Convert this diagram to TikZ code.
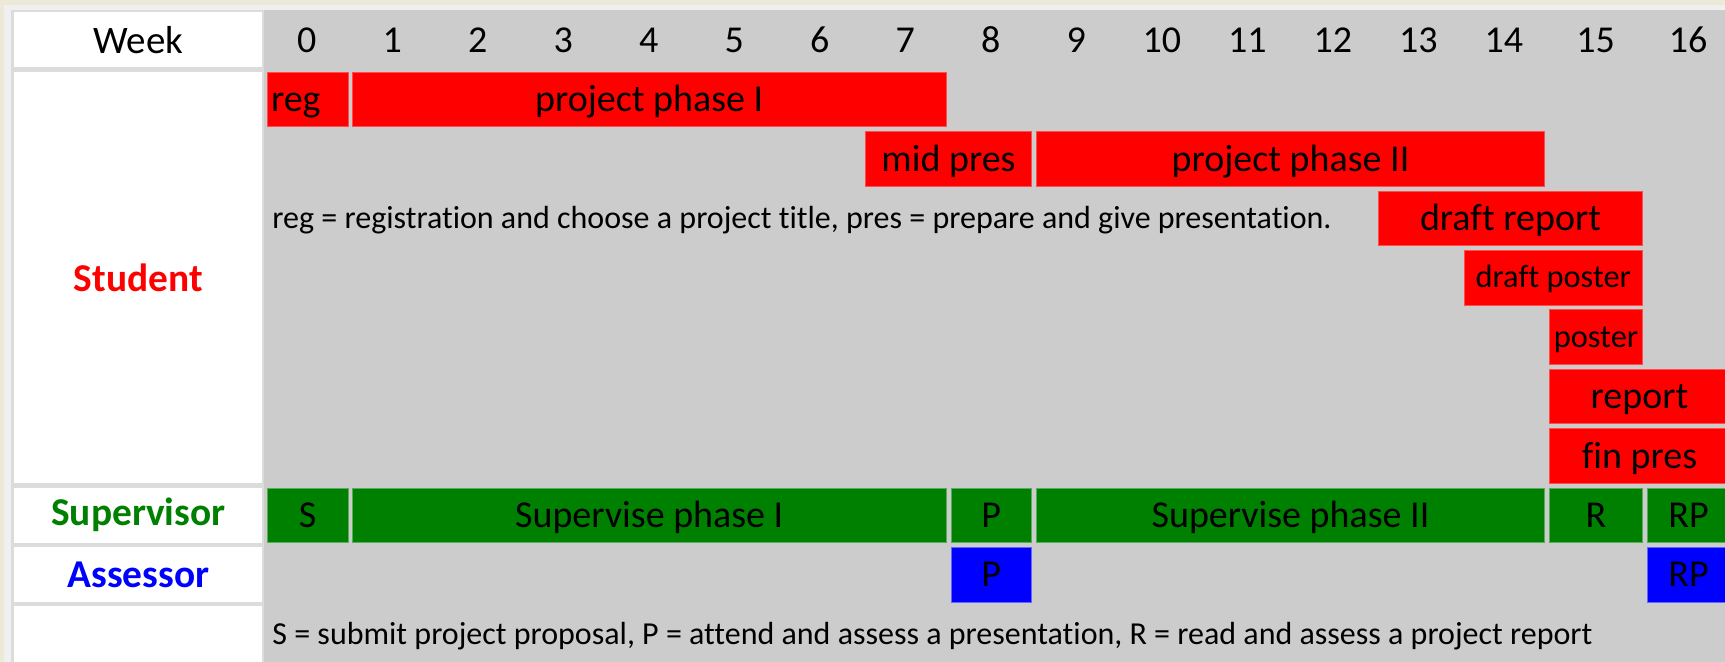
\documentclass[tikz,border=0pt]{standalone}
\usepackage{fontspec}
\setmainfont{Carlito}[Ligatures=NoCommon]
\definecolor{beige}{HTML}{ECE9D8}
\definecolor{frameg}{HTML}{F0F0F0}
\definecolor{tgray}{HTML}{CCCCCC}
\definecolor{lgap}{HTML}{DCDCDC}
\definecolor{dgreen}{HTML}{008000}
\newcommand\gbox[6]{%
  \node[#2, anchor=north west, minimum width={(#4-#3)*0.5pt}, minimum height=27.25pt] (#1) at (#3,{12+59.4*#5+0.5}) {#6};}
\newcommand\wcell[4]{%
  \node[whitecell, anchor=north west, minimum height={(#4-#3)*0.5pt}] (#1) at (14,#3) {#2};}
\tikzset{
  cell/.style={inner sep=0pt, text height=14pt, text depth=2pt, font=\fontsize{19}{21}\selectfont, text=black},
  redbox/.style={cell, fill=red, draw=red!70!white, line width=0.5pt},
  grnbox/.style={cell, fill=dgreen, draw=dgreen!65!white, line width=0.5pt},
  blubox/.style={cell, fill=blue, draw=blue!60!white, line width=0.5pt},
  smallred/.style={redbox, font=\fontsize{16.2}{18}\selectfont, text height=12pt, text depth=2pt},
  whitecell/.style={fill=white, inner sep=0pt, minimum width=124pt, font=\fontsize{19.7}{22}\selectfont\bfseries},
  hdr/.style={inner sep=0pt, font=\fontsize{19}{21}\selectfont, text height=12pt, text depth=0pt},
  note/.style={inner sep=0pt, font=\fontsize{16}{18}\selectfont, anchor=west}
}
\begin{document}
\begin{tikzpicture}[x=0.5pt, y=-0.5pt]
\useasboundingbox (0,0) rectangle (1725,662);
\clip (0,0) rectangle (1725,662);
% background layers
\fill[beige] (0,0) rectangle (1725,662);
\fill[frameg] (4,5) rectangle (1725,662);
\fill[tgray] (11,10) rectangle (1725,662);
\fill[lgap] (11,10) rectangle (264,662);
% label column
\node[whitecell, anchor=north west, minimum height=27.5pt, font=\fontsize{19.5}{21}\selectfont] (week) at (14,12) {Week};
\wcell{student}{\textcolor{red}{Student}}{71.4}{482.8}
\wcell{supervisor}{\textcolor{dgreen}{Supervisor}}{487.2}{542.2}
\wcell{assessor}{\textcolor{blue}{Assessor}}{546.6}{601.6}
\wcell{blank}{}{606}{680}
% header week numbers
\foreach \k in {0,...,14} {
  \node[hdr] (w\k) at ({264+85.5*\k+42.75},41) {\k};
}
\node[hdr] (w15) at (1595.5,41) {15};
\node[hdr] (w16) at (1688,41) {16};
% student tasks
\gbox{reg}{redbox}{266.5}{347.5}{1}{\makebox[39.5pt][l]{\kern1.5pt reg}}
\gbox{pp1}{redbox}{352}{945.5}{1}{project phase I}
\gbox{midpres}{redbox}{865}{1031}{2}{mid pres}
\gbox{pp2}{redbox}{1036}{1544}{2}{project phase II}
\gbox{draftreport}{redbox}{1378}{1642}{3}{draft report}
\gbox{draftposter}{smallred}{1463.5}{1642}{4}{draft poster}
\gbox{poster}{smallred}{1549}{1642}{5}{poster}
\gbox{report}{redbox}{1549}{1729}{6}{report}
\gbox{finpres}{redbox}{1549}{1729}{7}{fin pres}
\node[note] (note1) at (272,220) {reg = registration and choose a project title, pres = prepare and give presentation.};
% supervisor
\gbox{sS}{grnbox}{266.5}{347.5}{8}{S}
\gbox{sp1}{grnbox}{352}{945.5}{8}{Supervise phase I}
\gbox{sP}{grnbox}{950.5}{1031}{8}{P}
\gbox{sp2}{grnbox}{1036}{1544}{8}{Supervise phase II}
\gbox{sR}{grnbox}{1549}{1642}{8}{R}
\gbox{sRP}{grnbox}{1647}{1729}{8}{RP}
% assessor
\gbox{aP}{blubox}{950.5}{1031}{9}{P}
\gbox{aRP}{blubox}{1647}{1729}{9}{RP}
\node[note] (note2) at (272,636) {S = submit project proposal, P = attend and assess a presentation, R = read and assess a project report};
\end{tikzpicture}
\end{document}
